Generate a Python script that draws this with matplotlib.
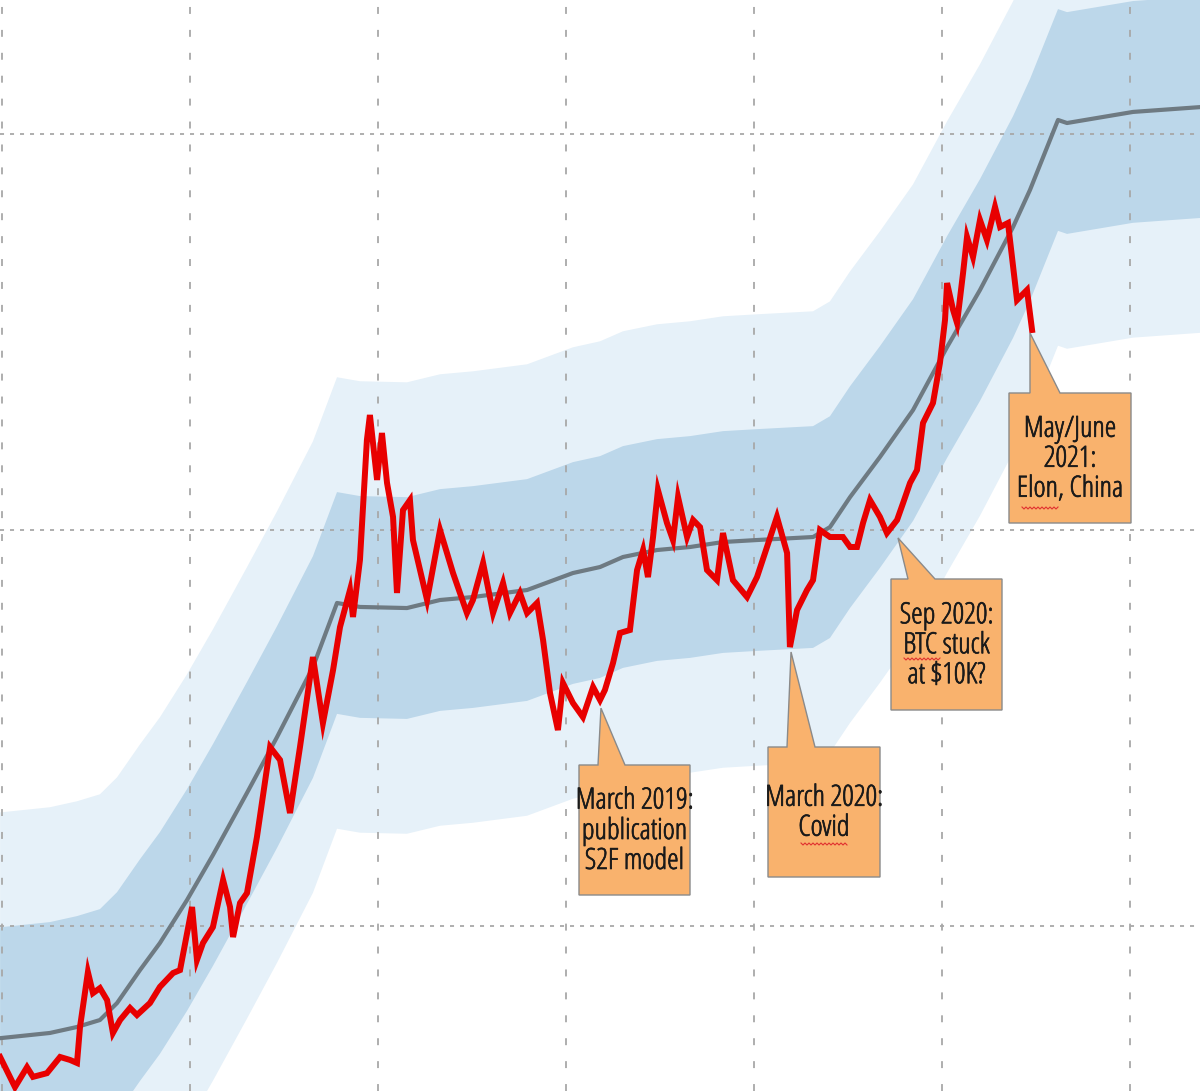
import numpy as np
import matplotlib
matplotlib.use("Agg")
import matplotlib.pyplot as plt
from matplotlib.patches import Polygon
from matplotlib import font_manager as fm
import matplotlib.patheffects as pe

# BTC price (decimal year, USD)
btc_years = [2015.99, 2016.069, 2016.133, 2016.165, 2016.239, 2016.309, 2016.362, 2016.399, 2016.415, 2016.457,
             2016.484, 2016.521, 2016.559, 2016.590, 2016.628, 2016.681, 2016.718, 2016.787, 2016.840, 2016.910,
             2016.947, 2017.011, 2017.037, 2017.069, 2017.122, 2017.176, 2017.213, 2017.229, 2017.266, 2017.303,
             2017.356, 2017.426, 2017.479, 2017.532, 2017.585, 2017.654, 2017.707, 2017.761, 2017.798, 2017.851,
             2017.867, 2017.904, 2017.941, 2017.957, 2017.995, 2018.021, 2018.048, 2018.080, 2018.101, 2018.133,
             2018.170, 2018.186, 2018.261, 2018.330, 2018.399, 2018.473, 2018.505, 2018.559, 2018.612, 2018.665,
             2018.702, 2018.755, 2018.793, 2018.846, 2018.878, 2018.915, 2018.957, 2018.984, 2019.037, 2019.090,
             2019.144, 2019.181, 2019.207, 2019.250, 2019.287, 2019.340, 2019.378, 2019.410, 2019.436, 2019.463,
             2019.489, 2019.537, 2019.569, 2019.596, 2019.644, 2019.676, 2019.713, 2019.750, 2019.803, 2019.835,
             2019.888, 2019.963, 2020.016, 2020.069, 2020.122, 2020.176, 2020.191, 2020.229, 2020.282, 2020.314,
             2020.351, 2020.404, 2020.473, 2020.511, 2020.548, 2020.580, 2020.617, 2020.670, 2020.707, 2020.761,
             2020.793, 2020.830, 2020.867, 2020.899, 2020.952, 2020.989, 2021.016, 2021.027, 2021.059, 2021.080,
             2021.112, 2021.133, 2021.165, 2021.202, 2021.239, 2021.282, 2021.309, 2021.351, 2021.372, 2021.399,
             2021.452, 2021.479]
btc_usd = [467, 392, 440, 416, 425, 467, 459, 451, 556, 765,
           677, 697, 650, 537, 579, 621, 596, 639, 702, 761,
           774, 1117, 821, 906, 994, 1307, 1117, 938, 1143, 1211,
           1677, 2831, 2626, 1929, 2831, 4778, 3254, 4431, 5690, 7055,
           6031, 8400, 16880, 19520, 13380, 17580, 13150, 10790, 6934, 11230,
           11900, 9435, 6657, 10000, 7788, 6172, 6657, 8254, 6172, 7348,
           6172, 6934, 6172, 6543, 5275, 3876, 3125, 4108, 3657, 3371,
           4013, 3722, 3945, 4614, 5495, 5591, 7925, 8902, 7606, 9601,
           12620, 10420, 9435, 12110, 9601, 10600, 10170, 7925, 7474, 9827,
           7474, 6773, 7606, 9060, 10790, 8748, 5063, 6281, 7055, 7474,
           10000, 9601, 9601, 9060, 9060, 10420, 11900, 10790, 9827, 10600,
           11700, 13150, 14170, 18630, 20930, 26410, 33910, 42040, 35940, 33320,
           44570, 54950, 48920, 60660, 54000, 65430, 58240, 59610, 48920, 38080,
           40370, 32000]

# stock-to-flow model line (decimal year, USD)
model_years = [2015.99, 2016.255, 2016.399, 2016.521, 2016.612, 2016.734, 2016.840, 2016.984, 2017.122, 2017.303,
               2017.463, 2017.654, 2017.782, 2017.904, 2018.154, 2018.330, 2018.505, 2018.793, 2019.037, 2019.181,
               2019.303, 2019.484, 2019.660, 2019.835, 2020.016, 2020.314, 2020.404, 2020.511, 2020.670, 2020.846,
               2021.027, 2021.202, 2021.378, 2021.468, 2021.617, 2021.665, 2022.016, 2022.38]
model_usd = [521, 537, 556, 579, 639, 774, 906, 1163, 1511, 2168,
             3001, 4508, 6543, 6393, 6353, 6657, 6773, 7055, 7788, 8064,
             8548, 8902, 9060, 9326, 9435, 9601, 10170, 12110, 15290, 20090,
             28980, 40370, 58240, 72230, 108500, 106600, 113700, 117000]

# band half-widths in decades (1 and 2 sigma)
sigma1 = 0.28
sigma2 = 0.57

year_ticks = [2016, 2017, 2018, 2019, 2020, 2021, 2022]
price_ticks = [1e3, 1e4, 1e5]

# callouts: text, event (year, usd), box in pixels (left, top, right, bottom), pointer base (x0, x1)
callouts = [
    ("March 2019:\npublication\nS2F model", (2019.186, 3550), (579, 765, 690, 895), (598, 625)),
    ("March 2020:\nCovid", (2020.197, 4920), (768, 747, 880, 877), (787, 815)),
    ("Sep 2020:\nBTC stuck\nat $10K?", (2020.766, 9550), (891, 579, 1002, 710), (908, 935)),
    ("May/June\n2021:\nElon, China", (2021.468, 31450), (1009, 393, 1131, 523), (1030, 1060)),
]
# spell-check squiggles under some words (pixels: x0, x1, y)
squiggles = [(801, 848, 844), (904, 940, 659), (1022, 1058, 508)]

W, H = 1200, 1091
plt.rcParams['lines.scale_dashes'] = False
fig = plt.figure(figsize=(W / 100, H / 100), dpi=100)
ax = fig.add_axes([0, 0, 1, 1])
ax.set_yscale('log')
ax.set_xlim(2015.9894, 2022.3723)
ax.set_ylim(383.2, 217970)

m = np.array(model_usd)
ax.fill_between(model_years, m / 10 ** sigma2, m * 10 ** sigma2, color='#e6f1f9', lw=0, zorder=1)
ax.fill_between(model_years, m / 10 ** sigma1, m * 10 ** sigma1, color='#bcd7ea', lw=0, zorder=1.1)

ax.plot(model_years, model_usd, color='#6e7a82', lw=3, zorder=3, solid_joinstyle='round')
ax.plot(btc_years, btc_usd, color='#e80000', lw=4.3, zorder=4, solid_joinstyle='miter')

ax.set_xticks(year_ticks)
ax.set_yticks(price_ticks)
ax.minorticks_off()
ax.tick_params(length=0, labelleft=False, labelbottom=False)
for s in ax.spines.values():
    s.set_visible(False)
ax.set_axisbelow(False)
ax.xaxis.grid(True, color='#a8a8a8', lw=1.3, linestyle=(0, (5, 11.5)))
ax.yaxis.grid(True, color='#a8a8a8', lw=1.3, linestyle=(0, (2.9, 4.3)))
for gl in ax.get_xgridlines() + ax.get_ygridlines():
    gl.set_zorder(2)


def px(x, y):
    return (x / W, 1 - y / H)


label_font = fm.FontProperties(family=['Open Sans'], stretch='condensed', size=21)

for text, event, box, base in callouts:
    l, t, r, b = box
    tip = ax.transAxes.inverted().transform(ax.transData.transform(event))
    verts = [px(l, t), px(base[0], t), tuple(tip), px(base[1], t), px(r, t), px(r, b), px(l, b)]
    ax.add_patch(Polygon(verts, closed=True, transform=ax.transAxes, facecolor='#f9b26d',
                         edgecolor='#8a8a8a', lw=1, zorder=5))
    cx, cy = px((l + r) / 2, (t + b) / 2 + 1)
    ax.text(cx, cy, text, transform=ax.transAxes, ha='center', va='center',
            fontproperties=label_font, linespacing=1.02, color='#1a1a1a', zorder=6,
            path_effects=[pe.withStroke(linewidth=0.5, foreground='#1a1a1a')])

for x0, x1, y in squiggles:
    xs = np.arange(x0, x1 + 1, 2)
    ys = y + np.where(np.arange(len(xs)) % 2 == 0, -1, 1)
    pts = [px(a, c) for a, c in zip(xs, ys)]
    ax.plot([p[0] for p in pts], [p[1] for p in pts], transform=ax.transAxes,
            color='#e03030', lw=0.8, zorder=7)

fig.savefig('out.png', dpi=100)
